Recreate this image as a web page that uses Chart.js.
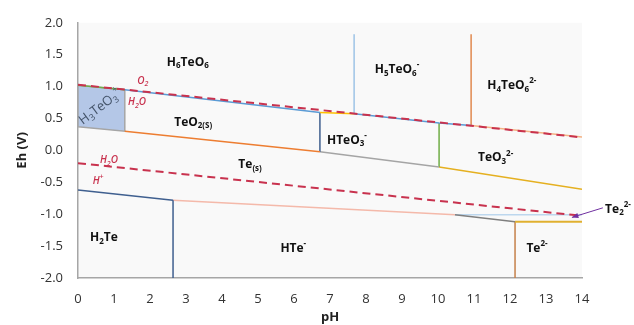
<!DOCTYPE html>
<html>
<head>
<meta charset="utf-8">
<script src="https://cdn.jsdelivr.net/npm/chart.js@4/dist/chart.umd.min.js"></script>
<style>
  html,body{margin:0;padding:0;background:#fff}
  #wrap{width:634px;height:325px}
</style>
</head>
<body>
<div id="wrap"><canvas id="pourbaix"></canvas></div>
<script>
// Te-H2O Pourbaix diagram, points are [pH, Eh]

// water stability limits
const o2Line = [[0, 1.03], [14, 0.204]];
const h2Line = [[0, -0.2], [14, -1.026]];

// H3TeO3+ field
const h3teo3Box = [[0, 1.02], [1.3, 0.95], [1.3, 0.30], [0, 0.37], [0, 1.02]];
const h3teo3Top = [[0, 1.02], [1.3, 0.95]];

// upper boundaries
const h6teo6Teo2 = [[1.3, 0.95], [6.72, 0.595]];
const h6teo6Hteo3 = [[6.72, 0.595], [7.67, 0.575]];
const h6teo6H5teo6 = [[7.67, 0.575], [7.67, 1.82]];
const h5teo6Hteo3 = [[7.67, 0.575], [10.03, 0.43], [10.92, 0.39]];
const h4teo6Teo3 = [[10.92, 0.39], [14, 0.21]];
const h5teo6H4teo6 = [[10.92, 0.39], [10.92, 1.82]];

// middle boundaries
const teo2Te = [[1.3, 0.30], [6.72, -0.02]];
const teo2Hteo3 = [[6.72, 0.595], [6.72, -0.02]];
const hteo3Te = [[6.72, -0.02], [10.03, -0.26]];
const hteo3Teo3 = [[10.03, 0.43], [10.03, -0.26]];
const teo3Te = [[10.03, -0.26], [14, -0.61]];

// lower boundaries
const teH2te = [[0, -0.62], [2.64, -0.78]];
const h2teHte = [[2.64, -0.78], [2.64, -2]];
const teHte = [[2.64, -0.78], [10.47, -1.01]];
const te2Hte = [[10.47, -1.01], [12.14, -1.12]];
const teTe2 = [[10.47, -1.01], [14, -1.01]];
const te2Te = [[12.14, -1.12], [14, -1.12]];
const hteTe = [[12.14, -1.12], [12.14, -2]];

// axis ticks
const xTicks = [0, 1, 2, 3, 4, 5, 6, 7, 8, 9, 10, 11, 12, 13, 14];
const yTicks = [-2, -1.5, -1, -0.5, 0, 0.5, 1, 1.5, 2];

// species names with position
const speciesNames = ['H_{6}TeO_{6}', 'TeO_{2(S)}', 'H_{5}TeO_{6}^{-}', 'H_{4}TeO_{6}^{2-}', 'HTeO_{3}^{-}',
  'TeO_{3}^{2-}', 'Te_{(s)}', 'H_{2}Te', 'HTe^{-}', 'Te^{2-}', 'Te_{2}^{2-}'];
const speciesPH = [3.05, 3.2, 8.86, 12.05, 7.47, 11.6, 4.78, 0.72, 5.98, 12.75, 15.0];
const speciesEh = [1.38, 0.44, 1.26, 1.01, 0.16, -0.12, -0.23, -1.37, -1.54, -1.54, -0.92];

const waterNames = ['O_{2}', 'H_{2}O', 'H_{2}O', 'H^{+}'];
const waterPH = [1.8, 1.64, 0.86, 0.56];
const waterEh = [1.09, 0.75, -0.16, -0.48];

const te2Arrow = [[14.58, -0.9], [13.72, -1.05]];

const pts = a => a.map(([x, y]) => ({x, y}));

function seg(data, color, width, extra) {
  return Object.assign({data: pts(data), borderColor: color, borderWidth: width, showLine: true,
    pointRadius: 0, fill: false, tension: 0}, extra || {});
}

const RED = '#c8324e';
const datasets = [
  seg(o2Line, RED, 2, {borderDash: [8, 5]}),
  seg(h2Line, RED, 2, {borderDash: [8, 5]}),
  seg(h3teo3Top, '#70ad47', 1.5),
  seg(h6teo6Teo2, '#5b9bd5', 1.5),
  seg(h6teo6Hteo3, '#ffc000', 1.5),
  seg(h6teo6H5teo6, '#9dc3e6', 1.5),
  seg(h5teo6Hteo3, '#5b9bd5', 1.5),
  seg(h4teo6Teo3, '#f4b183', 1.5),
  seg(h5teo6H4teo6, '#e0894f', 1.5),
  seg(teo2Te, '#ed7d31', 1.5),
  seg(teo2Hteo3, '#3f5f8f', 1.5),
  seg(hteo3Te, '#a5a5a5', 1.5),
  seg(hteo3Teo3, '#70ad47', 1.5),
  seg(teo3Te, '#e5b020', 1.5),
  seg(teH2te, '#3f5f8f', 1.5),
  seg(h2teHte, '#3f5f8f', 1.5),
  seg(teHte, '#f4b9aa', 1.5),
  seg(te2Hte, '#7f7f7f', 1.5),
  seg(teTe2, '#bdd7ee', 1.5),
  seg(te2Te, '#e0b030', 2),
  seg(hteTe, '#c5804a', 1.5),
  seg(h3teo3Box, '#a5a5a5', 1.5, {fill: 'shape', backgroundColor: '#b4c7e7'})
];

// split "H_{2}O^{+}" into plain/sub/sup runs
function richParts(s) {
  const out = [];
  const re = /([_^])\{([^}]*)\}|([^_^]+)/g;
  let m;
  while ((m = re.exec(s))) out.push(m[3] !== undefined ? {t: m[3], k: ''} : {t: m[2], k: m[1]});
  return out;
}

function drawRich(ctx, s, x, y, size, style, color) {
  const parts = richParts(s);
  const fontFor = k => `${style} ${k ? Math.round(size * 0.7) : size}px "Open Sans", sans-serif`;
  let w = 0;
  parts.forEach(p => { ctx.font = fontFor(p.k); p.w = ctx.measureText(p.t).width; w += p.w; });
  let cx = x - w / 2;
  ctx.fillStyle = color;
  ctx.textBaseline = 'middle';
  ctx.textAlign = 'left';
  parts.forEach(p => {
    ctx.font = fontFor(p.k);
    const dy = p.k === '_' ? size * 0.3 : p.k === '^' ? -size * 0.4 : 0;
    ctx.fillText(p.t, cx, y + dy);
    cx += p.w;
  });
}

const plotBg = {
  id: 'plotBg',
  beforeDraw(chart) {
    const {ctx, chartArea: a} = chart;
    ctx.save();
    ctx.fillStyle = '#f9f9f9';
    ctx.fillRect(a.left, a.top, a.right - a.left, a.bottom - a.top);
    ctx.restore();
  }
};

const fieldLabels = {
  id: 'fieldLabels',
  afterDatasetsDraw(chart) {
    const {ctx, scales: {x, y}} = chart;
    ctx.save();
    speciesNames.forEach((n, i) =>
      drawRich(ctx, n, x.getPixelForValue(speciesPH[i]), y.getPixelForValue(speciesEh[i]), 12, 'bold', '#111'));
    waterNames.forEach((n, i) =>
      drawRich(ctx, n, x.getPixelForValue(waterPH[i]), y.getPixelForValue(waterEh[i]), 10, 'italic 600', RED));

    // rotated label inside the small acid field
    ctx.save();
    ctx.translate(x.getPixelForValue(0.62), y.getPixelForValue(0.68));
    ctx.rotate(-37 * Math.PI / 180);
    drawRich(ctx, 'H_{3}TeO_{3}^{+}', 0, 0, 13, 'normal', '#44546a');
    ctx.restore();

    // pointer to the thin Te2 2- field
    const [p0, p1] = te2Arrow.map(([a, b]) => [x.getPixelForValue(a), y.getPixelForValue(b)]);
    const ang = Math.atan2(p1[1] - p0[1], p1[0] - p0[0]);
    ctx.strokeStyle = ctx.fillStyle = '#7030a0';
    ctx.lineWidth = 1;
    ctx.beginPath();
    ctx.moveTo(p0[0], p0[1]);
    ctx.lineTo(p1[0], p1[1]);
    ctx.stroke();
    ctx.beginPath();
    ctx.moveTo(p1[0], p1[1]);
    ctx.lineTo(p1[0] - 7 * Math.cos(ang - 0.4), p1[1] - 7 * Math.sin(ang - 0.4));
    ctx.lineTo(p1[0] - 7 * Math.cos(ang + 0.4), p1[1] - 7 * Math.sin(ang + 0.4));
    ctx.closePath();
    ctx.fill();
    ctx.restore();
  }
};

new Chart(document.getElementById('pourbaix'), {
  type: 'scatter',
  data: {datasets},
  options: {
    responsive: true,
    maintainAspectRatio: false,
    animation: false,
    layout: {padding: {top: 21, right: 52, left: 0, bottom: 0}},
    plugins: {legend: {display: false}, tooltip: {enabled: false}},
    scales: {
      x: {
        type: 'linear', min: 0, max: 14,
        afterBuildTicks: s => { s.ticks = xTicks.map(v => ({value: v})); },
        afterFit: s => { s.height = 47; },
        grid: {display: false, drawTicks: false},
        border: {color: '#a6a6a6', width: 1.5},
        ticks: {padding: 13, color: '#333', font: {family: '"Open Sans", sans-serif', size: 13}},
        title: {display: true, text: 'pH', color: '#222', padding: {top: 0, bottom: 0},
          font: {family: '"Open Sans", sans-serif', size: 13, weight: 'bold'}}
      },
      y: {
        type: 'linear', min: -2, max: 2,
        afterBuildTicks: s => { s.ticks = yTicks.map(v => ({value: v})); },
        afterFit: s => { s.width = 78; },
        grid: {display: false, drawTicks: false},
        border: {color: '#a6a6a6', width: 1.5},
        ticks: {padding: 15, color: '#333', callback: v => v.toFixed(1),
          font: {family: '"Open Sans", sans-serif', size: 13}},
        title: {display: true, text: 'Eh (V)', color: '#222', padding: {top: 14, bottom: 0},
          font: {family: '"Open Sans", sans-serif', size: 13, weight: 'bold'}}
      }
    }
  },
  plugins: [plotBg, fieldLabels]
});
</script>
</body>
</html>
